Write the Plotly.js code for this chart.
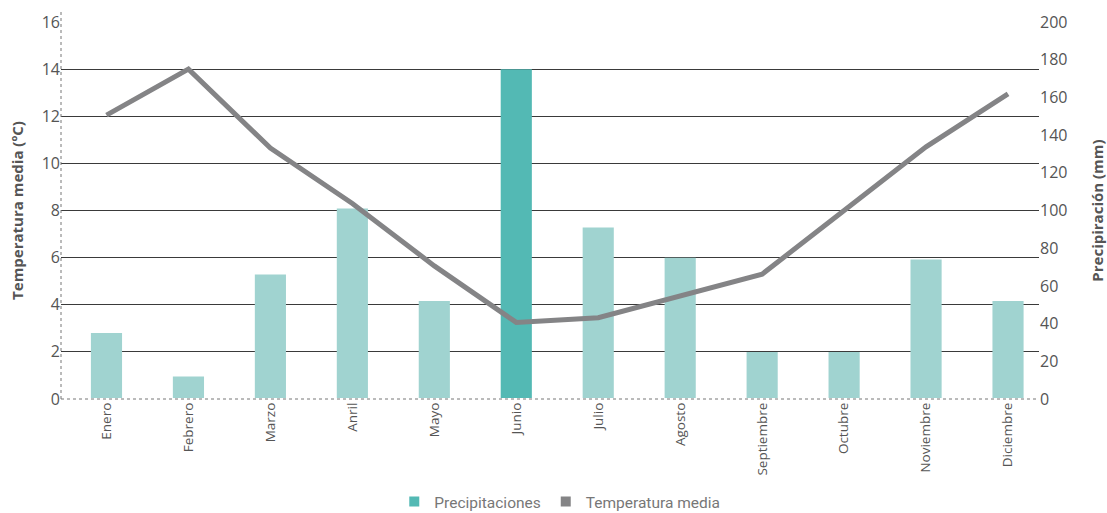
<!DOCTYPE html>
<html>
<head>
<meta charset="utf-8">
<script src="https://cdn.plot.ly/plotly-3.0.1.min.js"></script>
<style>html,body{margin:0;padding:0;background:#fff;}#chart{width:1107px;height:513px;}</style>
</head>
<body>
<div id="chart"></div>
<script>
const months = ['Enero','Febrero','Marzo','Anril','Mayo','Junio','Julio','Agosto','Septiembre','Octubre','Noviembre','Diciembre'];
const precipitaciones = [35, 12, 66, 101, 52, 175, 91, 75, 25, 25, 74, 52];
const temperatura = [12.05, 14.0, 10.65, 8.3, 5.65, 3.25, 3.45, 4.4, 5.3, 8.0, 10.7, 12.95];
const highlightMonth = 'Junio';

const light = '#a0d3d0';
const dark = '#53b9b4';
const grey = '#848486';
const txt = '#555555';

const traces = [
  {
    type: 'bar', x: months, y: precipitaciones, yaxis: 'y',
    marker: {color: months.map(m => m === highlightMonth ? dark : light)},
    width: 0.38, showlegend: false, hoverinfo: 'skip'
  },
  {
    type: 'scatter', mode: 'lines', x: months, y: temperatura, yaxis: 'y2',
    line: {color: grey, width: 5}, showlegend: false, hoverinfo: 'skip'
  },
  {
    type: 'scatter', mode: 'markers', x: [null], y: [null], name: 'Precipitaciones',
    marker: {symbol: 'square', size: 10, color: dark}
  },
  {
    type: 'scatter', mode: 'markers', x: [null], y: [null], name: 'Temperatura media',
    marker: {symbol: 'square', size: 10, color: grey}
  }
];

const layout = {
  width: 1107, height: 513,
  margin: {l: 61, r: 68, t: 22, b: 114, autoexpand: false},
  paper_bgcolor: '#fff', plot_bgcolor: '#fff',
  font: {family: 'Open Sans, sans-serif', color: txt},
  hovermode: false,
  xaxis: {
    type: 'category', range: [-0.555, 11.378], tickangle: -90, automargin: false,
    showgrid: false, zeroline: false, showline: false, ticks: '',
    tickfont: {size: 13.5, color: txt}, fixedrange: true
  },
  yaxis: {
    side: 'right', range: [0, 200], dtick: 20, showgrid: false, zeroline: false,
    showline: false, ticks: '', tickfont: {size: 16, color: txt}, automargin: false,
    title: {text: 'Precipiración (mm)', font: {size: 15, color: txt, weight: 'bold'}, standoff: 28}
  },
  yaxis2: {
    overlaying: 'y', side: 'left', range: [0, 16], dtick: 2, automargin: false,
    showgrid: true, gridcolor: '#3a3a3a', gridwidth: 1, zeroline: false, showline: false,
    ticks: '', tickfont: {size: 16, color: txt},
    title: {text: 'Temperatura media (ºC)', font: {size: 15, color: txt, weight: 'bold'}, standoff: 14}
  },
  legend: {
    orientation: 'h', x: 0.51, xanchor: 'center', y: -0.273, yanchor: 'middle',
    font: {family: 'Roboto, sans-serif', size: 15.5, color: '#777'},
    itemwidth: 30, traceorder: 'normal'
  },
  shapes: [
    {type: 'line', xref: 'paper', yref: 'paper', x0: 0, x1: 1, y0: 0, y1: 0,
     line: {color: '#fff', width: 2}},
    {type: 'line', xref: 'paper', yref: 'paper', x0: 0, x1: 1, y0: 0, y1: 0,
     line: {color: '#777', width: 1, dash: 'dot'}},
    {type: 'line', xref: 'paper', yref: 'paper', x0: 0, x1: 0, y0: 0, y1: 1.03,
     line: {color: '#777', width: 1, dash: 'dot'}}
  ]
};

Plotly.newPlot('chart', traces, layout, {displayModeBar: false, staticPlot: true});
</script>
</body>
</html>
